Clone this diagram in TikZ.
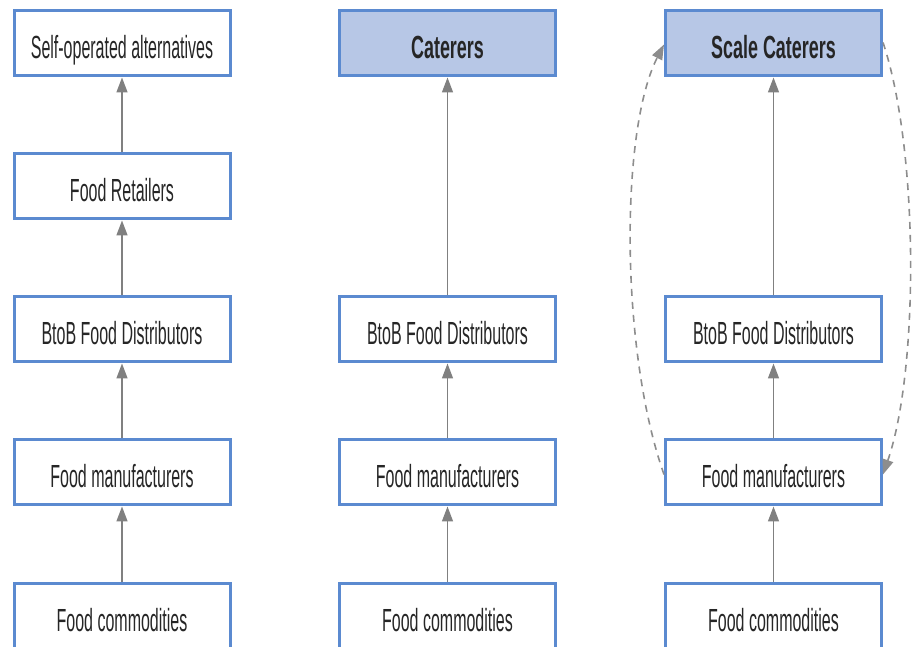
\documentclass[tikz,border=0pt]{standalone}
\usepackage{fontspec}
\setmainfont[FakeStretch=0.5,BoldFeatures={FakeStretch=0.56}]{Liberation Sans}
\usetikzlibrary{arrows.meta}
\definecolor{boxblue}{HTML}{5B8AD0}
\definecolor{boxfill}{HTML}{B7C7E6}
\definecolor{arrgray}{HTML}{808080}
\begin{document}
\begin{tikzpicture}[x=1pt,y=1pt,
  chainbox/.style={draw=boxblue, line width=3pt, fill=white, minimum width=216pt, minimum height=65pt, inner sep=0pt, text height=30pt, text depth=0pt, font=\fontsize{32}{34}\selectfont, text=black!85},
  topbox/.style={chainbox, fill=boxfill, font=\fontsize{32}{34}\selectfont\bfseries},
  flow/.style={draw=arrgray, line width=1.5pt, -{Triangle[length=15pt,width=11pt]}},
  loop/.style={draw=arrgray!90, line width=1.6pt, dash pattern=on 7pt off 6pt, -{Triangle[length=15pt,width=11pt]}}
]
\useasboundingbox (0,0) rectangle (912,647);
\clip (0,0) rectangle (912,647);
% column 1
\node[chainbox] (a1) at (122,603.5) {Self-operated alternatives};
\node[chainbox] (a2) at (122,460.5) {Food Retailers};
\node[chainbox] (a3) at (122,317.5) {BtoB Food Distributors};
\node[chainbox] (a4) at (122,174.5) {Food manufacturers};
\node[chainbox] (a5) at (122,30.5) {Food commodities};
% column 2
\node[topbox] (b1) at (447.5,603.5) {Caterers};
\node[chainbox] (b3) at (447.5,317.5) {BtoB Food Distributors};
\node[chainbox] (b4) at (447.5,174.5) {Food manufacturers};
\node[chainbox] (b5) at (447.5,30.5) {Food commodities};
% column 3
\node[topbox] (c1) at (773.5,603.5) {Scale Caterers};
\node[chainbox] (c3) at (773.5,317.5) {BtoB Food Distributors};
\node[chainbox] (c4) at (773.5,174.5) {Food manufacturers};
\node[chainbox] (c5) at (773.5,30.5) {Food commodities};
% arrows
\draw[flow] (a2.north) -- (a1.south);
\draw[flow] (a3.north) -- (a2.south);
\draw[flow] (a4.north) -- (a3.south);
\draw[flow] (a5.north) -- (a4.south);
\draw[flow] (b3.north) -- (b1.south);
\draw[flow] (b4.north) -- (b3.south);
\draw[flow] (b5.north) -- (b4.south);
\draw[flow] (c3.north) -- (c1.south);
\draw[flow] (c4.north) -- (c3.south);
\draw[flow] (c5.north) -- (c4.south);
% dashed loops
\draw[loop] ([yshift=-2pt]c4.west) .. controls (620,297) and (620,517) .. ([yshift=-1pt]c1.west);
\draw[loop] ([yshift=1pt]c1.east) .. controls (919,497) and (919,277) .. ([yshift=-2pt]c4.east);
\end{tikzpicture}
\end{document}
